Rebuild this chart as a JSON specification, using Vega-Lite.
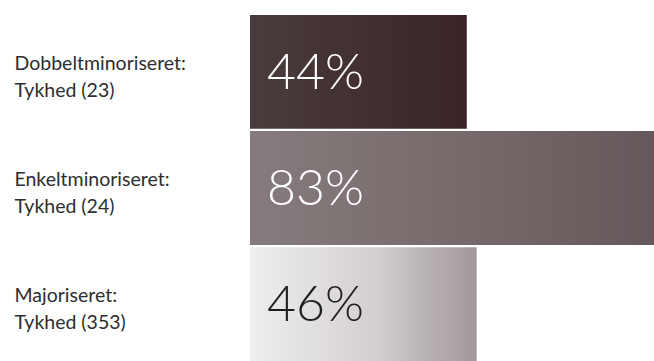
{
  "$schema": "https://vega.github.io/schema/vega-lite/v6.json",
  "autosize": "none",
  "padding": {"left": 250, "top": 15, "right": 0, "bottom": 0},
  "width": 404,
  "height": 346,
  "background": "white",
  "config": {"view": {"stroke": null}},
  "data": {
    "values": [
      {"group": "Dobbeltminoriseret:|Tykhed (23)", "pct": 44, "label": "44%"},
      {"group": "Enkeltminoriseret:|Tykhed (24)", "pct": 83, "label": "83%"},
      {"group": "Majoriseret:|Tykhed (353)", "pct": 46, "label": "46%"}
    ]
  },
  "encoding": {
    "y": {
      "field": "group",
      "type": "nominal",
      "sort": null,
      "scale": {"paddingInner": 0.02, "paddingOuter": 0},
      "axis": {
        "title": null,
        "domain": false,
        "ticks": false,
        "labelAlign": "left",
        "labelPadding": 236,
        "labelFont": "Lato",
        "labelFontSize": 19.5,
        "labelColor": "#2e2e2e",
        "labelLineHeight": 27,
        "labelExpr": "split(datum.value, '|')",
        "labelOffset": -8,
        "labelLimit": 240
      }
    }
  },
  "layer": [
    {
      "transform": [{"filter": "datum.pct == 44"}],
      "mark": {"type": "bar", "clip": true, "color": {"gradient": "linear", "x1": 0, "x2": 1, "y1": 0, "y2": 0, "stops": [{"offset": 0, "color": "#4a3c3e"}, {"offset": 1, "color": "#3a2427"}]}},
      "encoding": {"x": {"field": "pct", "type": "quantitative", "scale": {"domain": [0, 82], "nice": false}, "axis": null}}
    },
    {
      "transform": [{"filter": "datum.pct == 83"}],
      "mark": {"type": "bar", "clip": true, "color": {"gradient": "linear", "x1": 0, "x2": 1, "y1": 0, "y2": 0, "stops": [{"offset": 0, "color": "#877c7d"}, {"offset": 1, "color": "#65585a"}]}},
      "encoding": {"x": {"field": "pct", "type": "quantitative"}}
    },
    {
      "transform": [{"filter": "datum.pct == 46"}],
      "mark": {"type": "bar", "clip": true, "color": {"gradient": "linear", "x1": 0, "x2": 1, "y1": 0, "y2": 0, "stops": [{"offset": 0, "color": "#efeeee"}, {"offset": 0.55, "color": "#d4cfd0"}, {"offset": 1, "color": "#a0979a"}]}},
      "encoding": {"x": {"field": "pct", "type": "quantitative"}}
    },
    {
      "mark": {"type": "text", "align": "left", "baseline": "alphabetic", "dx": 17, "dy": 17, "font": "Lato", "fontSize": 50, "fontWeight": 300},
      "encoding": {
        "x": {"datum": 0, "type": "quantitative"},
        "text": {"field": "label"},
        "color": {"field": "group", "type": "nominal", "sort": null, "legend": null, "scale": {"range": ["#ffffff", "#ffffff", "#1e1e1e"]}}
      }
    }
  ]
}
